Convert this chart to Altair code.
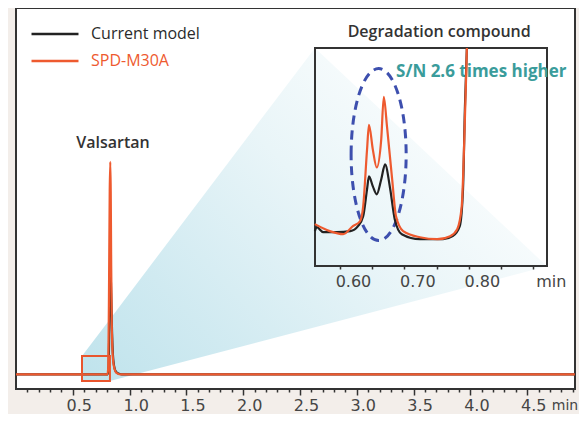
import altair as alt
import pandas as pd
import numpy as np

# ---------------- data ----------------
SERIES = ["Current model", "SPD-M30A"]
COLORS = ["#222222", "#ee5a2f"]

# main chromatogram (time in min, signal)
MAIN_RED_T = [0.0, 0.805, 0.812, 0.818, 0.825, 0.830, 0.834, 0.838, 0.843, 0.850, 0.860, 0.875, 0.895, 0.92, 4.92]
MAIN_RED_V = [0, 0, 2, 20, 50, 58, 50, 30, 14, 6, 2.5, 0.8, 0.2, 0, 0]
MAIN_BLK_T = [0.0, 0.808, 0.815, 0.821, 0.827, 0.832, 0.836, 0.840, 0.846, 0.853, 0.863, 0.878, 0.90, 0.93, 4.92]
MAIN_BLK_V = [0, 0, 2, 12, 24, 27, 25, 19, 11, 5.5, 2.4, 0.8, 0.2, 0, 0]

# inset (degradation compound region)
INS_RED_T = [0.561, 0.584, 0.605, 0.620, 0.631, 0.636, 0.642, 0.645, 0.651, 0.657, 0.664, 0.668, 0.673,
             0.681, 0.687, 0.698, 0.724, 0.751, 0.771, 0.782, 0.789, 0.793, 0.796, 0.797]
INS_RED_V = [1.92, 1.60, 1.46, 1.83, 2.05, 2.74, 5.34, 6.48, 5.34, 4.52, 5.80, 7.76, 6.39,
             3.97, 2.28, 1.60, 1.32, 1.23, 1.37, 1.69, 2.74, 5.80, 8.86, 10.0]
INS_BLK_T = [0.561, 0.564, 0.574, 0.595, 0.616, 0.628, 0.636, 0.642, 0.645, 0.651, 0.657, 0.664, 0.670,
             0.678, 0.685, 0.696, 0.724, 0.760, 0.775, 0.786, 0.791, 0.794, 0.797]
INS_BLK_V = [1.60, 1.78, 1.55, 1.55, 1.60, 1.83, 2.28, 3.52, 4.11, 3.65, 3.29, 3.97, 4.66,
             3.52, 2.15, 1.46, 1.23, 1.23, 1.37, 1.83, 3.52, 7.31, 10.0]

# axes / scales
MAIN_T_DOMAIN = [0.0, 4.921]
MAIN_V_DOMAIN = [-4, 100]
MAIN_TICKS = [round(0.1 * i, 1) for i in range(1, 50)]
INS_T_DOMAIN = [0.5612, 0.9214]
INS_V_DOMAIN = [0, 10]
INS_T_RANGE = [299, 531]
INS_V_RANGE = [258, 40]
INS_TICKS = [0.60, 0.65, 0.70, 0.75, 0.80, 0.85, 0.90]

# annotation geometry (in main data units)
ZOOM_BOX_T = [0.581, 0.827]
ZOOM_BOX_V = [-1.82, 4.98]
INSET_BOX_T = [2.632, 4.674]
INSET_BOX_V = [29.5, 89.1]

# ellipse highlight (inset units)
ELLIPSE_T, ELLIPSE_V = 0.660, 5.11

W, H = 559, 381

# ---------------- tables ----------------
main_df = pd.concat([
    pd.DataFrame({"t": MAIN_BLK_T, "v": MAIN_BLK_V, "s": SERIES[0]}),
    pd.DataFrame({"t": MAIN_RED_T, "v": MAIN_RED_V, "s": SERIES[1]}),
])
ins_df = pd.concat([
    pd.DataFrame({"ti": INS_BLK_T, "vi": INS_BLK_V, "s": SERIES[0]}),
    pd.DataFrame({"ti": INS_RED_T, "vi": INS_RED_V, "s": SERIES[1]}),
])

# shaded zoom fan: from zoom box to the inset corners
px = [ZOOM_BOX_T[0], ZOOM_BOX_T[1], INSET_BOX_T[0], INSET_BOX_T[1]]
top = np.interp(px, [ZOOM_BOX_T[0], INSET_BOX_T[0], INSET_BOX_T[1]],
                [ZOOM_BOX_V[1], INSET_BOX_V[1], INSET_BOX_V[0]])
bot = np.interp(px, [ZOOM_BOX_T[0], ZOOM_BOX_T[1], INSET_BOX_T[1]],
                [ZOOM_BOX_V[0], ZOOM_BOX_V[0], INSET_BOX_V[0]])
fan_df = pd.DataFrame({"t": px, "top": top, "bot": bot})

# ---------------- encodings ----------------
major = "round(datum.value*10) % 5 == 0"
main_axis = alt.Axis(
    values=MAIN_TICKS, title=None, domain=False, grid=False, zindex=1,
    labelExpr=f"{major} ? format(datum.value, '.1f') : ''",
    labelOverlap=False, labelFlush=False, labelOffset=6,
    tickSize={"condition": {"test": major, "value": 6}, "value": 3},
    tickColor="#333333", tickWidth=1.5, labelPadding=2,
    labelFont="DejaVu Sans", labelFontSize=16, labelColor="#454545",
)
XM = alt.X("t:Q", scale=alt.Scale(domain=MAIN_T_DOMAIN), axis=main_axis)
YM = alt.Y("v:Q", scale=alt.Scale(domain=MAIN_V_DOMAIN), axis=None)

imajor = "datum.value < 0.85 && round(datum.value*100) % 10 == 0"
ins_axis = alt.Axis(
    values=INS_TICKS, title=None, domain=False, grid=False, orient="bottom", zindex=1,
    offset=-(H - INS_V_RANGE[0]),
    labelExpr=f"{imajor} ? format(datum.value, '.2f') : ''",
    labelOverlap=False, labelFlush=False, labelOffset=13,
    tickSize=3, tickColor="#333333", tickWidth=1.5, labelPadding=4,
    labelFont="DejaVu Sans", labelFontSize=16, labelColor="#454545",
)
XI = alt.X("ti:Q", scale=alt.Scale(domain=INS_T_DOMAIN, range=INS_T_RANGE), axis=ins_axis)
YI = alt.Y("vi:Q", scale=alt.Scale(domain=INS_V_DOMAIN, range=INS_V_RANGE), axis=None)

# legend line symbol: a long stroke drawn beyond the (small) symbol box
LEG_SYMBOL = "M -2.5 0 L 2.5 0"
legend = alt.Legend(
    orient="none", legendX=28, legendY=15, title=None, direction="vertical",
    symbolType=LEG_SYMBOL, symbolSize=353, symbolStrokeWidth=2.5,
    labelFont="Open Sans", labelFontSize=16, labelFontWeight=500, labelOffset=25, rowPadding=8, padding=0,
    labelColor=alt.ExprRef(expr="datum.label == 'SPD-M30A' ? '#ee5a2f' : '#2b2b2b'"),
)
COLOR = alt.Color("s:N", scale=alt.Scale(domain=SERIES, range=COLORS), legend=legend)

# ---------------- main layers ----------------
fan = alt.Chart(fan_df).mark_area(
    color=alt.Gradient(
        gradient="linear",
        stops=[alt.GradientStop(color="#bfe3ec", offset=0),
               alt.GradientStop(color="#d0eaf1", offset=0.25),
               alt.GradientStop(color="#e9f5f8", offset=0.6),
               alt.GradientStop(color="#ffffff", offset=1)],
        x1=0, y1=1, x2=1, y2=0.3),
).encode(x=XM, y=alt.Y("top:Q", scale=alt.Scale(domain=MAIN_V_DOMAIN), axis=None), y2="bot:Q")

lines = alt.Chart(main_df).mark_line(strokeWidth=2.2, interpolate="monotone").encode(
    x=XM, y=YM, color=COLOR, detail="s:N")

zoom_df = pd.DataFrame({"t": [ZOOM_BOX_T[0]], "t2": [ZOOM_BOX_T[1]], "v": [ZOOM_BOX_V[0]], "v2": [ZOOM_BOX_V[1]]})
zoom_box = alt.Chart(zoom_df).mark_rect(fillOpacity=0, stroke="#e9552d", strokeWidth=2).encode(
    x=XM, x2="t2:Q", y=YM, y2="v2:Q")

main_text_df = pd.DataFrame({"t": [0.854, 4.833], "v": [63.2, -8.6], "label": ["Valsartan", "min"]})
valsartan = alt.Chart(main_text_df.iloc[[0]]).mark_text(
    font="Open Sans", fontSize=16, fontWeight=600, color="#333333", baseline="middle").encode(
    x=XM, y=YM, text="label:N")
min_main = alt.Chart(main_text_df.iloc[[1]]).mark_text(
    font="DejaVu Sans", fontSize=14, color="#454545", baseline="middle").encode(
    x=XM, y=YM, text="label:N")

main_layer = alt.layer(fan, lines, zoom_box, valsartan, min_main)

# ---------------- inset layers ----------------
frame_df = pd.DataFrame({"ti": [INS_T_DOMAIN[0]], "ti2": [INS_T_DOMAIN[1]],
                         "vi": [INS_V_DOMAIN[0]], "vi2": [INS_V_DOMAIN[1]]})
frame = alt.Chart(frame_df).mark_rect(fillOpacity=0, stroke="#333333", strokeWidth=2).encode(
    x=XI, x2="ti2:Q", y=YI, y2="vi2:Q")

sn = alt.Chart(pd.DataFrame({"ti": [0.687], "vi": [8.9], "label": ["S/N 2.6 times higher"]})).mark_text(
    font="Open Sans", fontSize=17, fontWeight="bold", color="#3a9c9b", align="left", baseline="middle").encode(
    x=XI, y=YI, text="label:N")

ELLIPSE_PATH = "M -0.32 0 A 0.32 1 0 1 1 0.32 0 A 0.32 1 0 1 1 -0.32 0 Z"
ellipse = alt.Chart(pd.DataFrame({"ti": [ELLIPSE_T], "vi": [ELLIPSE_V]})).mark_point(
    shape=ELLIPSE_PATH, size=29584, filled=False, color="#3d4fae", strokeWidth=3,
    strokeDash=[9, 6], opacity=1).encode(x=XI, y=YI)

ins_lines = alt.Chart(ins_df).mark_line(strokeWidth=2.2, interpolate="monotone").encode(
    x=XI, y=YI, color=COLOR, detail="s:N")

deg = alt.Chart(pd.DataFrame({"ti": [0.754], "vi": [10.73], "label": ["Degradation compound"]})).mark_text(
    font="Open Sans", fontSize=16, fontWeight=600, color="#333333", baseline="middle").encode(
    x=XI, y=YI, text="label:N")
min_ins = alt.Chart(pd.DataFrame({"ti": [0.928], "vi": [-0.73], "label": ["min"]})).mark_text(
    font="DejaVu Sans", fontSize=16, color="#454545", baseline="middle").encode(
    x=XI, y=YI, text="label:N")

inset_layer = alt.layer(frame, sn, ellipse, ins_lines, deg, min_ins)

chart = alt.layer(main_layer, inset_layer).resolve_scale(
    x="independent", y="independent"
).properties(
    width=W, height=H,
    padding={"left": 8, "top": 0, "right": 4, "bottom": 25},
    autosize=alt.AutoSizeParams(type="none"),
    background="#f3eeea",
).configure_view(stroke="#333333", strokeWidth=2, fill="white")

chart.save("out.html", embed_options={"renderer": "svg", "actions": False})
